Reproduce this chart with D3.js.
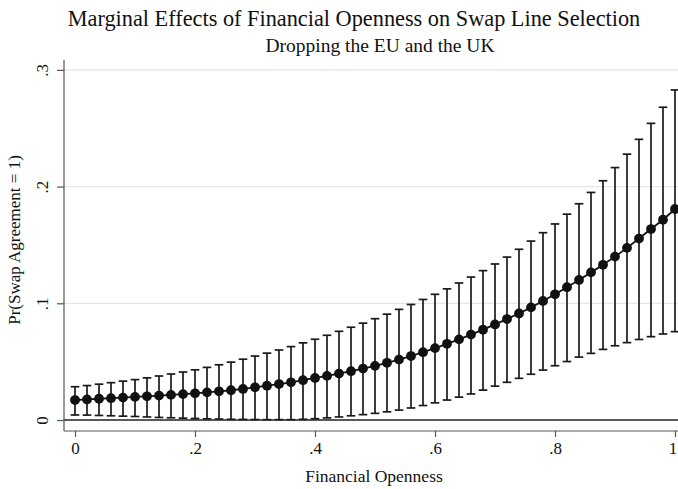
<!DOCTYPE html>
<html>
<head>
<meta charset="utf-8">
<script src="https://cdn.jsdelivr.net/npm/d3@7"></script>
<style>
  html, body { margin: 0; padding: 0; background: #fff; }
  svg { display: block; }
  text { font-family: "Liberation Serif", "Times New Roman", serif; fill: #111; }
</style>
</head>
<body>
<script>
// Financial openness grid (0 to 1 in steps of .02)
const openness = [
  0.00, 0.02, 0.04, 0.06, 0.08, 0.10, 0.12, 0.14, 0.16, 0.18,
  0.20, 0.22, 0.24, 0.26, 0.28, 0.30, 0.32, 0.34, 0.36, 0.38,
  0.40, 0.42, 0.44, 0.46, 0.48, 0.50, 0.52, 0.54, 0.56, 0.58,
  0.60, 0.62, 0.64, 0.66, 0.68, 0.70, 0.72, 0.74, 0.76, 0.78,
  0.80, 0.82, 0.84, 0.86, 0.88, 0.90, 0.92, 0.94, 0.96, 0.98, 1.00
];

// Predicted Pr(Swap Agreement = 1)
const predicted = [
  0.0171, 0.0176, 0.0182, 0.0187, 0.0192, 0.0198, 0.0203, 0.0209, 0.0215, 0.0222,
  0.0229, 0.0237, 0.0246, 0.0255, 0.0266, 0.0280, 0.0294, 0.0308, 0.0323, 0.0341,
  0.0360, 0.0378, 0.0398, 0.0418, 0.0441, 0.0464, 0.0490, 0.0518, 0.0548, 0.0581,
  0.0616, 0.0653, 0.0691, 0.0732, 0.0774, 0.0819, 0.0865, 0.0913, 0.0965, 0.1020,
  0.1077, 0.1138, 0.1200, 0.1265, 0.1330, 0.1400, 0.1475, 0.1555, 0.1636, 0.1716, 0.1808
];

// Upper confidence bound
const upper = [
  0.0285, 0.0295, 0.0307, 0.0320, 0.0333, 0.0346, 0.0361, 0.0377, 0.0394, 0.0411,
  0.0430, 0.0451, 0.0473, 0.0496, 0.0521, 0.0548, 0.0573, 0.0600, 0.0629, 0.0661,
  0.0692, 0.0726, 0.0760, 0.0795, 0.0830, 0.0868, 0.0907, 0.0948, 0.0990, 0.1033,
  0.1077, 0.1124, 0.1174, 0.1225, 0.1280, 0.1337, 0.1396, 0.1463, 0.1533, 0.1605,
  0.1680, 0.1764, 0.1853, 0.1950, 0.2050, 0.2163, 0.2278, 0.2405, 0.2542, 0.2680, 0.2828
];

// Lower confidence bound
const lower = [
  0.0043, 0.0042, 0.0039, 0.0036, 0.0033, 0.0030, 0.0026, 0.0022, 0.0019, 0.0016,
  0.0013, 0.0010, 0.0008, 0.0006, 0.0005, 0.0004, 0.0003, 0.0003, 0.0003, 0.0006,
  0.0011, 0.0018, 0.0026, 0.0036, 0.0046, 0.0057, 0.0070, 0.0085, 0.0103, 0.0124,
  0.0147, 0.0171, 0.0196, 0.0223, 0.0256, 0.0290, 0.0323, 0.0357, 0.0392, 0.0428,
  0.0465, 0.0501, 0.0539, 0.0571, 0.0605, 0.0636, 0.0663, 0.0690, 0.0714, 0.0737, 0.0757
];

const xTicks = [0, 0.2, 0.4, 0.6, 0.8, 1];
const xTickLabels = ["0", ".2", ".4", ".6", ".8", "1"];
const yTicks = [0, 0.1, 0.2, 0.3];
const yTickLabels = ["0", ".1", ".2", ".3"];

const titleText = "Marginal Effects of Financial Openness on Swap Line Selection";
const subtitleText = "Dropping the EU and the UK";
const xTitle = "Financial Openness";
const yTitle = "Pr(Swap Agreement = 1)";

const W = 678, H = 489;
const plotLeft = 64, plotRight = 678, plotTop = 60, plotBottom = 431;

const svg = d3.select("body").append("svg")
  .attr("width", W).attr("height", H);

const x = d3.scaleLinear().domain([0, 1]).range([75, 675]);
const y = d3.scaleLinear().domain([0, 0.3]).range([420, 69.9]);

const data = openness.map((v, i) => ({ x: v, p: predicted[i], lo: lower[i], hi: upper[i] }));

// Horizontal grid lines
svg.append("g").selectAll("line")
  .data(yTicks.filter(d => d > 0))
  .join("line")
  .attr("x1", plotLeft).attr("x2", plotRight)
  .attr("y1", d => y(d)).attr("y2", d => y(d))
  .attr("stroke", "#e6e6e6").attr("stroke-width", 1.2);

// Reference line at zero
svg.append("line")
  .attr("x1", plotLeft).attr("x2", plotRight)
  .attr("y1", y(0)).attr("y2", y(0))
  .attr("stroke", "#222").attr("stroke-width", 1.6);

// Y axis
const yAxis = d3.axisLeft(y)
  .tickValues(yTicks)
  .tickFormat((d, i) => yTickLabels[i])
  .tickSize(7).tickSizeOuter(0);
const gy = svg.append("g").attr("transform", `translate(${plotLeft},0)`).call(yAxis);
gy.select(".domain").remove();
gy.selectAll(".tick line").attr("stroke", "#555").attr("stroke-width", 1.2);
gy.selectAll(".tick text")
  .attr("font-size", 17)
  .attr("text-anchor", "middle")
  .attr("x", 0).attr("dy", 0)
  .attr("transform", "translate(-16,0) rotate(-90)");
svg.append("line")
  .attr("x1", plotLeft).attr("x2", plotLeft)
  .attr("y1", plotTop).attr("y2", plotBottom)
  .attr("stroke", "#555").attr("stroke-width", 1.2);

// X axis
const xAxis = d3.axisBottom(x)
  .tickValues(xTicks)
  .tickFormat((d, i) => xTickLabels[i])
  .tickSize(6).tickSizeOuter(0);
const gx = svg.append("g").attr("transform", `translate(0,${plotBottom})`).call(xAxis);
gx.select(".domain").remove();
gx.selectAll(".tick line").attr("stroke", "#555").attr("stroke-width", 1.2);
gx.selectAll(".tick text").attr("font-size", 17).attr("y", 11).attr("dy", "0.71em")
  // keep the last label inside the right edge
  .attr("dx", (d, i) => i === xTicks.length - 1 ? -2.5 : 0);
svg.append("line")
  .attr("x1", plotLeft).attr("x2", plotRight)
  .attr("y1", plotBottom).attr("y2", plotBottom)
  .attr("stroke", "#555").attr("stroke-width", 1.2);

// Confidence interval bars with caps
const bars = svg.append("g").attr("stroke", "#1a1a1a").attr("stroke-width", 1.7);
bars.selectAll("line.stem").data(data).join("line").attr("class", "stem")
  .attr("x1", d => x(d.x)).attr("x2", d => x(d.x))
  .attr("y1", d => y(d.lo)).attr("y2", d => y(d.hi));
bars.selectAll("line.capHi").data(data).join("line").attr("class", "capHi")
  .attr("x1", d => x(d.x) - 4.3).attr("x2", d => x(d.x) + 4.3)
  .attr("y1", d => y(d.hi)).attr("y2", d => y(d.hi));
bars.selectAll("line.capLo").data(data).join("line").attr("class", "capLo")
  .attr("x1", d => x(d.x) - 4.3).attr("x2", d => x(d.x) + 4.3)
  .attr("y1", d => y(d.lo)).attr("y2", d => y(d.lo));

// Connected predicted probabilities
svg.append("path").datum(data)
  .attr("fill", "none").attr("stroke", "#111").attr("stroke-width", 1.8)
  .attr("d", d3.line().x(d => x(d.x)).y(d => y(d.p)));

svg.append("g").selectAll("circle").data(data).join("circle")
  .attr("cx", d => x(d.x)).attr("cy", d => y(d.p))
  .attr("r", 4.9).attr("fill", "#111");

// Titles
svg.append("text").attr("x", 354).attr("y", 26)
  .attr("text-anchor", "middle").attr("font-size", 22.3).text(titleText);
svg.append("text").attr("x", 380).attr("y", 52)
  .attr("text-anchor", "middle").attr("font-size", 19.5).text(subtitleText);
svg.append("text").attr("x", 374).attr("y", 482)
  .attr("text-anchor", "middle").attr("font-size", 17.5).text(xTitle);
svg.append("text")
  .attr("transform", "translate(20,240) rotate(-90)")
  .attr("text-anchor", "middle").attr("font-size", 17).text(yTitle);
</script>
</body>
</html>
